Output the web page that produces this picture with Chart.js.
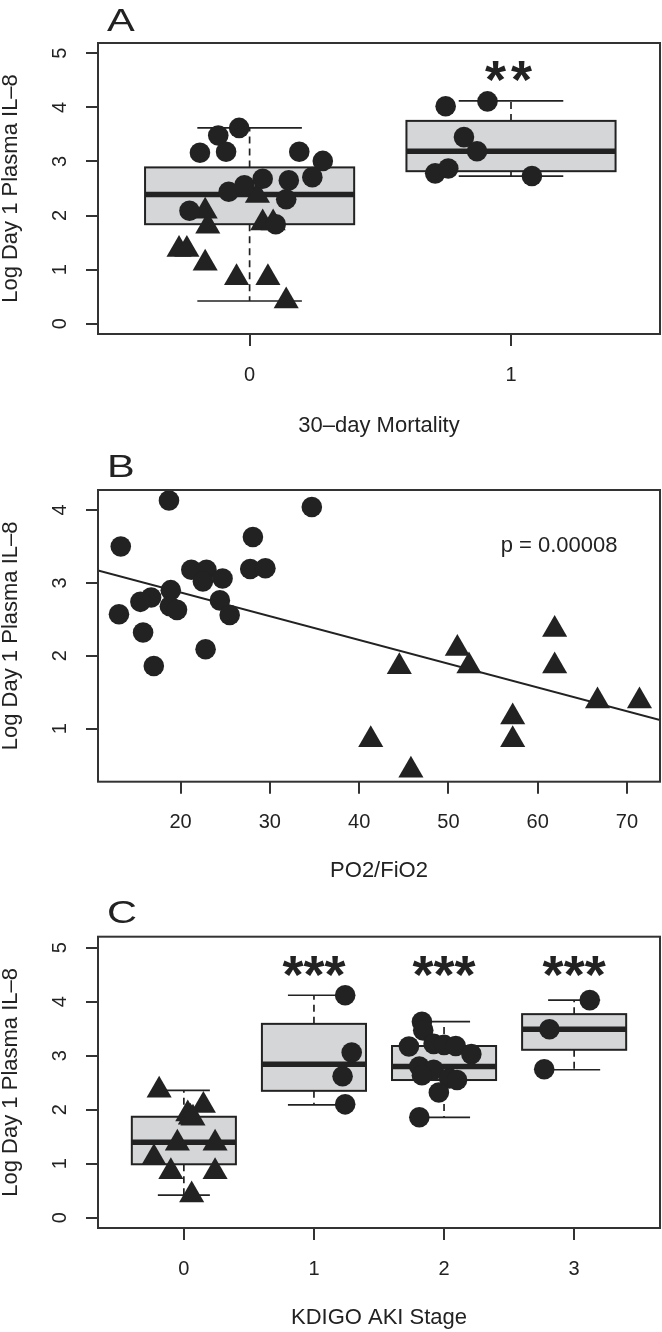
<!DOCTYPE html>
<html lang="en">
<head>
<meta charset="UTF-8">
<title>Day 1 plasma IL-8</title>
<script src="https://cdn.jsdelivr.net/npm/chart.js"></script>
<style>
  body { margin: 0; background: #fff; }
  #wrap { position: relative; width: 662px; height: 1332px; }
  canvas { position: absolute; left: 0; }
</style>
</head>
<body>
<div id="wrap">
  <canvas id="panelA" width="662" height="445" style="top:0px"></canvas>
  <canvas id="panelB" width="662" height="445" style="top:445px"></canvas>
  <canvas id="panelC" width="662" height="442" style="top:890px"></canvas>
</div>
<script>
// ---- A: 30-day mortality, groups drawn at x = 1 and 2 (x includes jitter) ----
const mortalityNames = ['0', '1'];
const aCircleX = [0.81, 0.88, 0.96, 0.91, 0.77, 0.92, 0.98, 1.05, 1.15, 1.14, 1.10, 1.19, 1.28, 1.24,
                  1.75, 1.91, 1.82, 1.87, 1.71, 1.76, 2.08];
const aCircleY = [3.16, 3.48, 3.62, 3.18, 2.09, 2.44, 2.56, 2.68, 2.65, 2.30, 1.84, 3.18, 3.01, 2.71,
                  4.02, 4.11, 3.45, 3.19, 2.78, 2.87, 2.73];
const aTriangleX = [1.03, 0.83, 0.84, 1.05, 1.09, 0.73, 0.76, 0.83, 0.95, 1.07, 1.14];
const aTriangleY = [2.37, 2.08, 1.80, 1.86, 1.86, 1.37, 1.37, 1.12, 0.85, 0.85, 0.42];
const aLow = [0.42, 2.73];
const aQ1 = [1.84, 2.82];
const aMedian = [2.39, 3.19];
const aQ3 = [2.89, 3.75];
const aHigh = [3.62, 4.12];
const aStars = ['', '**'];

// ---- B: IL-8 against PO2/FiO2 ----
const pfCircleX = [18.7, 34.7, 13.3, 28.1, 27.8, 29.5, 21.2, 22.9, 22.5, 24.7, 18.9, 16.7, 15.5, 18.8, 19.6, 24.4, 25.5, 13.1, 15.8, 22.8, 17.0];
const pfCircleY = [4.13, 4.04, 3.50, 3.63, 3.19, 3.20, 3.18, 3.18, 3.02, 3.06, 2.90, 2.80, 2.74, 2.68, 2.63, 2.76, 2.56, 2.57, 2.32, 2.09, 1.86];
const pfTriangleX = [44.5, 51.0, 52.3, 61.9, 61.9, 66.7, 71.4, 57.2, 57.2, 45.8, 41.3];
const pfTriangleY = [1.85, 2.10, 1.86, 2.36, 1.86, 1.38, 1.38, 1.16, 0.85, 0.43, 0.85];
const fitX = [10.75, 73.7];
const fitY = [3.17, 1.12];
const pfTicks = [20, 30, 40, 50, 60, 70];
const pfYTicks = [1, 2, 3, 4];

// ---- C: KDIGO AKI stage, groups drawn at x = 1..4 ----
const akiNames = ['0', '1', '2', '3'];
const cTriangleX = [0.81, 1.15, 1.03, 1.05, 1.07, 0.95, 1.24, 0.77, 0.90, 1.24, 1.06];
const cTriangleY = [2.36, 2.08, 1.92, 1.86, 1.84, 1.38, 1.38, 1.11, 0.85, 0.85, 0.42];
const cCircleX = [2.24, 2.29, 2.22, 2.24,
                  2.83, 2.84, 2.73, 2.92, 3.00, 3.09, 3.21, 2.81, 2.92, 2.83, 3.04, 3.10, 2.96, 2.81,
                  4.12, 3.81, 3.77];
const cCircleY = [4.12, 3.06, 2.62, 2.10,
                  3.63, 3.47, 3.17, 3.22, 3.20, 3.18, 3.03, 2.80, 2.74, 2.64, 2.58, 2.55, 2.32, 1.86,
                  4.03, 3.49, 2.75];
const cLow = [0.42, 2.09, 1.86, 2.74];
const cQ1 = [0.99, 2.35, 2.55, 3.11];
const cMedian = [1.40, 2.84, 2.80, 3.49];
const cQ3 = [1.87, 3.59, 3.18, 3.77];
const cHigh = [2.36, 4.12, 3.63, 4.03];
const cStars = ['', '***', '***', '***'];

const yTicks = [0, 1, 2, 3, 4, 5];
const yTitle = 'Log Day 1 Plasma IL\u20138';

const ink = '#222';
const FONT = '"Liberation Sans", Arial, Helvetica, sans-serif';

const pts = (xs, ys) => xs.map((x, i) => ({ x: x, y: ys[i] }));

function line(ctx, x1, y1, x2, y2) {
  ctx.beginPath();
  ctx.moveTo(x1, y1);
  ctx.lineTo(x2, y2);
  ctx.stroke();
}

// R-like decorations: boxplots, frame, rotated y labels, panel letter, stars
const rPlugin = {
  id: 'rStyle',
  beforeDatasetsDraw(chart, args, o) {
    if (!o.box) return;
    const { ctx, scales: { x, y } } = chart;
    const b = o.box;
    b.low.forEach((lo, i) => {
      const cx = x.getPixelForValue(i + 1);
      const half = x.getPixelForValue(i + 1.4) - cx;
      const cap = half / 2;
      const yLo = y.getPixelForValue(lo), yHi = y.getPixelForValue(b.high[i]);
      const y1 = y.getPixelForValue(b.q1[i]), y3 = y.getPixelForValue(b.q3[i]);
      const ym = y.getPixelForValue(b.med[i]);
      ctx.save();
      ctx.strokeStyle = ink;
      ctx.lineWidth = 1.7;
      ctx.setLineDash([7, 5]);
      line(ctx, cx, y3, cx, yHi);
      line(ctx, cx, y1, cx, yLo);
      ctx.setLineDash([]);
      line(ctx, cx - cap, yHi, cx + cap, yHi);
      line(ctx, cx - cap, yLo, cx + cap, yLo);
      ctx.fillStyle = '#d5d6d8';
      ctx.fillRect(cx - half, y3, 2 * half, y1 - y3);
      ctx.lineWidth = 2;
      ctx.strokeRect(cx - half, y3, 2 * half, y1 - y3);
      ctx.lineWidth = 5.5;
      line(ctx, cx - half, ym, cx + half, ym);
      ctx.restore();
    });
  },
  afterDatasetsDraw(chart) {
    const { ctx, chartArea: a } = chart;
    ctx.save();
    ctx.strokeStyle = '#333';
    ctx.lineWidth = 2;
    ctx.strokeRect(a.left, a.top, a.right - a.left, a.bottom - a.top);
    ctx.restore();
  },
  afterDraw(chart, args, o) {
    const { ctx, scales: { x, y } } = chart;
    ctx.save();
    ctx.fillStyle = ink;
    ctx.font = '20px ' + FONT;
    ctx.textAlign = 'center';
    ctx.textBaseline = 'middle';
    y.ticks.forEach(t => {
      ctx.save();
      ctx.translate(60, y.getPixelForValue(t.value));
      ctx.rotate(-Math.PI / 2);
      ctx.fillText(t.label, 0, 0);
      ctx.restore();
    });
    x.ticks.forEach(t => ctx.fillText(t.label, x.getPixelForValue(t.value), o.xLabelY));

    // panel letter
    ctx.save();
    ctx.translate(107, o.letterY);
    ctx.scale(1.3, 1);
    ctx.font = '32px ' + FONT;
    ctx.textAlign = 'left';
    ctx.textBaseline = 'alphabetic';
    ctx.fillText(o.letter, 0, 0);
    ctx.restore();

    if (o.stars) {
      ctx.font = 'bold 54px ' + FONT;
      ctx.textBaseline = 'alphabetic';
      o.stars.forEach((s, i) => {
        if (!s) return;
        ctx.letterSpacing = o.starGap || '0px';
        const m = ctx.measureText(s);
        const yc = y.getPixelForValue(o.starY);
        const base = yc + (m.actualBoundingBoxAscent - m.actualBoundingBoxDescent) / 2;
        ctx.fillText(s, x.getPixelForValue(i + 1), base);
      });
      ctx.letterSpacing = '0px';
    }

    if (o.note) {
      ctx.font = '22px ' + FONT;
      ctx.textBaseline = 'middle';
      ctx.fillText(o.note.text, x.getPixelForValue(o.note.x), y.getPixelForValue(o.note.y));
    }
    ctx.restore();
  }
};

const tickMarks = { display: true, drawOnChartArea: false, drawTicks: true, tickLength: 12, lineWidth: 2, color: '#333' };

function makePanel(id, p) {
  const datasets = [
    { data: p.circles, pointStyle: 'circle', pointRadius: 10.3, backgroundColor: ink, borderWidth: 0 },
    { data: p.triangles, pointStyle: 'triangle', pointRadius: 14.5, backgroundColor: ink, borderWidth: 0 }
  ];
  if (p.fit) {
    datasets.push({ data: p.fit, showLine: true, pointRadius: 0, borderColor: ink, borderWidth: 2 });
  }
  return new Chart(document.getElementById(id), {
    type: 'scatter',
    data: { datasets: datasets },
    options: {
      responsive: false,
      animation: false,
      events: [],
      layout: { autoPadding: false, padding: { top: p.top, right: 2, left: 0, bottom: 0 } },
      plugins: { legend: { display: false }, tooltip: { enabled: false }, rStyle: p.deco },
      scales: {
        x: {
          type: 'linear', min: p.xMin, max: p.xMax,
          afterBuildTicks: s => { s.ticks = p.xTicks.map(v => ({ value: v })); },
          afterFit: s => { s.height = p.xHeight; },
          ticks: { display: false, callback: (v, i) => p.xNames ? p.xNames[i] : String(v) },
          grid: tickMarks,
          border: { display: false },
          title: { display: true, text: p.xTitle, color: ink,
                   font: { family: FONT, size: 22, lineHeight: 1 }, padding: { top: 0, bottom: p.xTitlePad } }
        },
        y: {
          type: 'linear', min: p.yMin, max: p.yMax,
          afterBuildTicks: s => { s.ticks = p.yTicks.map(v => ({ value: v })); },
          afterFit: s => { s.width = 98; },
          ticks: { display: false, callback: v => String(v) },
          grid: tickMarks,
          border: { display: false },
          title: { display: true, text: yTitle, color: ink,
                   font: { family: FONT, size: 22, lineHeight: 1 }, padding: { top: 0, bottom: 0 } }
        }
      }
    },
    plugins: [rPlugin]
  });
}

makePanel('panelA', {
  top: 43, xHeight: 111, xTitlePad: 8.2,
  xMin: 0.42, xMax: 2.57, xTicks: [1, 2], xNames: mortalityNames, xTitle: '30\u2013day Mortality',
  yMin: -0.19, yMax: 5.19, yTicks: yTicks,
  circles: pts(aCircleX, aCircleY), triangles: pts(aTriangleX, aTriangleY),
  deco: {
    box: { low: aLow, q1: aQ1, med: aMedian, q3: aQ3, high: aHigh },
    stars: aStars, starY: 4.67, starGap: '5px',
    letter: 'A', letterY: 31, xLabelY: 375
  }
});

makePanel('panelB', {
  top: 45, xHeight: 108.3, xTitlePad: 8.2,
  xMin: 10.75, xMax: 73.7, xTicks: pfTicks, xTitle: 'PO2/FiO2',
  yMin: 0.273, yMax: 4.274, yTicks: pfYTicks,
  circles: pts(pfCircleX, pfCircleY), triangles: pts(pfTriangleX, pfTriangleY), fit: pts(fitX, fitY),
  deco: {
    note: { text: 'p = 0.00008', x: 62.4, y: 3.51 },
    letter: 'B', letterY: 32, xLabelY: 377
  }
});

makePanel('panelC', {
  top: 46.7, xHeight: 104, xTitlePad: 3.3,
  xMin: 0.34, xMax: 4.66, xTicks: [1, 2, 3, 4], xNames: akiNames, xTitle: 'KDIGO AKI Stage',
  yMin: -0.19, yMax: 5.204, yTicks: yTicks,
  circles: pts(cCircleX, cCircleY), triangles: pts(cTriangleX, cTriangleY),
  deco: {
    box: { low: cLow, q1: cQ1, med: cMedian, q3: cQ3, high: cHigh },
    stars: cStars, starY: 4.65,
    letter: 'C', letterY: 33, xLabelY: 379
  }
});
</script>
</body>
</html>
